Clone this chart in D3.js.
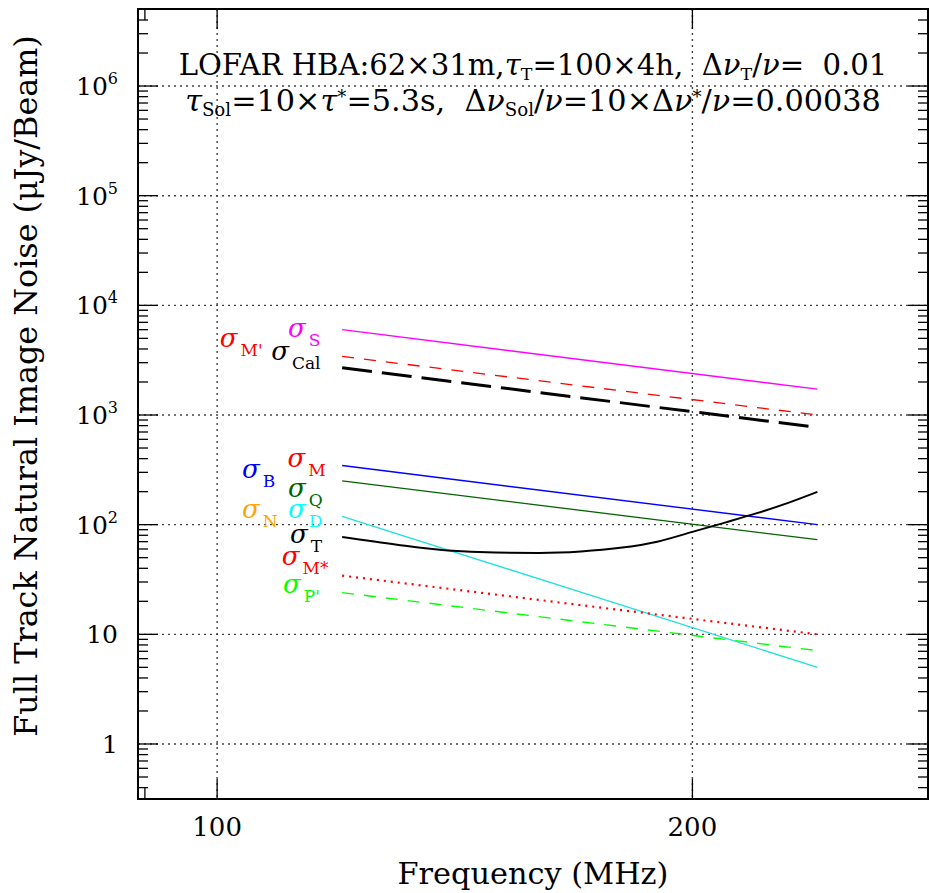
<!DOCTYPE html>
<html>
<head>
<meta charset="utf-8">
<script src="https://cdn.jsdelivr.net/npm/d3@7"></script>
<style>
  body { margin: 0; background: #fff; }
  text { font-family: "DejaVu Serif", "Liberation Serif", serif; fill: #000; white-space: pre; }
</style>
</head>
<body>
<div id="chart"></div>
<script>
const margin = { top: 9, right: 1, bottom: 94, left: 138 },
  width = 929 - margin.left - margin.right,
  height = 893 - margin.top - margin.bottom;

// frequency (MHz) of the straight power-law lines (end points)
const freqEnds = [120, 240];
// noise terms (µJy/beam) at 120 and 240 MHz
const sigmaS = [6000, 1720];
const sigmaMp = [3420, 1000];
const sigmaCal = [2700, 770];
const sigmaB = [346, 100];
const sigmaQ = [251, 73];
const sigmaD = [119, 5.0];
const sigmaMstar = [34.3, 10.0];
const sigmaPp = [24.0, 7.1];

// total noise curve
const freqT = [120, 130, 140, 150, 160, 170, 180, 190, 200, 210, 220, 230, 240];
const sigmaT = [77, 65.5, 58, 55.6, 55.3, 57, 61.5, 70, 86, 105, 128, 158, 199];

// axis ticks
const yMajor = [1, 10, 100, 1000, 1e4, 1e5, 1e6];
const yLabels = ["1", "10", "10|2", "10|3", "10|4", "10|5", "10|6"];
const xMajor = [100, 200];
const xMinor = [90];

const series = [
  { f: freqEnds, v: sigmaS, color: "#ff00ff", w: 1.4, dash: null },
  { f: freqEnds, v: sigmaMp, color: "#ff0000", w: 1.3, dash: "12,10" },
  { f: freqEnds, v: sigmaCal, color: "#000", w: 3, dash: "30,10" },
  { f: freqEnds, v: sigmaB, color: "#0000ff", w: 1.4, dash: null },
  { f: freqEnds, v: sigmaQ, color: "#006400", w: 1.3, dash: null },
  { f: freqEnds, v: sigmaD, color: "#22e0dc", w: 1.4, dash: null },
  { f: freqT, v: sigmaT, color: "#000", w: 2, dash: null },
  { f: freqEnds, v: sigmaMstar, color: "#ff0000", w: 2.2, dash: "2,5" },
  { f: freqEnds, v: sigmaPp, color: "#00ff00", w: 1.4, dash: "12,10" }
];

// label anchors, in data units (MHz, µJy/beam)
const labels = [
  { sub: "M'", color: "#ff0000", f: 100.4, v: 4170 },
  { sub: "S", color: "#ff00ff", f: 110.9, v: 5140 },
  { sub: "Cal", color: "#000", f: 108.2, v: 3170 },
  { sub: "B", color: "#0000ff", f: 103.7, v: 266 },
  { sub: "M", color: "#ff0000", f: 110.8, v: 336 },
  { sub: "Q", color: "#006400", f: 110.9, v: 179 },
  { sub: "N", color: "#ffa500", f: 103.7, v: 115 },
  { sub: "D", color: "#00ffff", f: 110.9, v: 115 },
  { sub: "T", color: "#000", f: 111.2, v: 68 },
  { sub: "M*", color: "#ff0000", f: 109.9, v: 42.9 },
  { sub: "P'", color: "#00ff00", f: 110.1, v: 23.8 }
];

const svg = d3.select("#chart").append("svg")
  .attr("width", width + margin.left + margin.right)
  .attr("height", height + margin.top + margin.bottom);
const g = svg.append("g").attr("transform", `translate(${margin.left},${margin.top})`);

const x = d3.scaleLog().domain([89.1, 282]).range([0, width]);
const y = d3.scaleLog().domain([0.315, 5.04e6]).range([height, 0]);

// scale a text's font so that it spans the wanted width
function fit(sel, target) {
  const w = sel.node().getComputedTextLength();
  const fs = parseFloat(sel.style("font-size"));
  sel.style("font-size", (fs * target / w) + "px");
}

// dotted grid
g.selectAll(".hgrid").data(yMajor).enter().append("line")
  .attr("x1", 0).attr("x2", width)
  .attr("y1", d => y(d)).attr("y2", d => y(d))
  .attr("stroke", "#444").attr("stroke-width", 1.4).attr("stroke-dasharray", "2,4");
g.selectAll(".vgrid").data(xMajor).enter().append("line")
  .attr("y1", 0).attr("y2", height)
  .attr("x1", d => x(d)).attr("x2", d => x(d))
  .attr("stroke", "#444").attr("stroke-width", 1.4).attr("stroke-dasharray", "2,4");

// ticks on all four sides
const yMinor = [];
for (let e = -1; e <= 6; e++) for (let k = 2; k <= 9; k++) {
  const v = k * Math.pow(10, e);
  if (v > y.domain()[0] && v < y.domain()[1]) yMinor.push(v);
}
const tickStroke = sel => sel.attr("stroke", "#000").attr("stroke-width", 1.3);
[[yMajor, 20], [yMinor, 10]].forEach(([vals, len]) => {
  g.append("g").selectAll("line").data(vals).enter().append("line")
    .attr("x1", 0).attr("x2", len).attr("y1", d => y(d)).attr("y2", d => y(d)).call(tickStroke);
  g.append("g").selectAll("line").data(vals).enter().append("line")
    .attr("x1", width).attr("x2", width - len).attr("y1", d => y(d)).attr("y2", d => y(d)).call(tickStroke);
});
[[xMajor, 20], [xMinor, 11]].forEach(([vals, len]) => {
  g.append("g").selectAll("line").data(vals).enter().append("line")
    .attr("y1", height).attr("y2", height - len).attr("x1", d => x(d)).attr("x2", d => x(d)).call(tickStroke);
  g.append("g").selectAll("line").data(vals).enter().append("line")
    .attr("y1", 0).attr("y2", len).attr("x1", d => x(d)).attr("x2", d => x(d)).call(tickStroke);
});

// frame
g.append("rect").attr("width", width).attr("height", height)
  .attr("fill", "none").attr("stroke", "#000").attr("stroke-width", 2);

// tick labels
const yl = g.append("g").selectAll("text").data(yMajor).enter().append("text")
  .attr("x", -20).attr("y", d => y(d) + 9)
  .attr("text-anchor", "end").style("font-size", "25px");
yl.each(function(d, i) {
  const parts = yLabels[i].split("|");
  const t = d3.select(this);
  t.append("tspan").text(parts[0]);
  if (parts[1]) t.append("tspan").attr("dy", -11).style("font-size", "16px").text(parts[1]);
});
g.append("g").selectAll("text").data(xMajor).enter().append("text")
  .attr("x", d => x(d)).attr("y", height + 37)
  .attr("text-anchor", "middle").style("font-size", "26px")
  .text(d => d);

// axis titles
const xt = svg.append("text").attr("x", margin.left + width / 2).attr("y", 884)
  .attr("text-anchor", "middle").style("font-size", "26px").text("Frequency (MHz)");
fit(xt, 271);
const yt = svg.append("text").attr("transform", "translate(37,386) rotate(-90)")
  .attr("text-anchor", "middle").style("font-size", "26px")
  .text("Full Track Natural Image Noise (\u03bcJy/Beam)");
fit(yt, 702);

// curves
const line = d3.line().curve(d3.curveMonotoneX).x(d => x(d[0])).y(d => y(d[1]));
g.selectAll(".curve").data(series).enter().append("path")
  .attr("d", s => line(d3.zip(s.f, s.v)))
  .attr("fill", "none")
  .attr("stroke", s => s.color)
  .attr("stroke-width", s => s.w)
  .attr("stroke-dasharray", s => s.dash);

// sigma labels
const lab = g.selectAll(".lab").data(labels).enter().append("text")
  .attr("x", d => x(d.f)).attr("y", d => y(d.v))
  .style("fill", d => d.color).style("font-size", "26px");
lab.append("tspan").style("font-style", "italic").text("\u03c3");
lab.append("tspan").attr("dx", 3).attr("dy", 9).style("font-size", "17px").text(d => d.sub);

// header text (sub/superscripts sized in em so fit() scales them too)
const head = g.append("g").attr("transform", `translate(${width / 2},0)`);
const sub = (t, s) => t.append("tspan").attr("dy", "0.3em").style("font-size", "0.6em").text(s);
const back = (t, s) => t.append("tspan").attr("dy", "-0.18em").text(s);
const it = (t, s) => t.append("tspan").style("font-style", "italic").text(s);

const h1 = head.append("text").attr("y", 66).attr("text-anchor", "middle").style("font-size", "28px");
h1.append("tspan").text("LOFAR HBA:62\u00d731m,");
it(h1, "\u03c4");
sub(h1, "T");
back(h1, "=100\u00d74h,  \u0394");
it(h1, "\u03bd");
sub(h1, "T");
back(h1, "/");
it(h1, "\u03bd");
h1.append("tspan").text("=  0.01");
fit(h1, 709);

const h2 = head.append("text").attr("y", 102).attr("text-anchor", "middle").style("font-size", "28px");
it(h2, "\u03c4");
sub(h2, "Sol");
back(h2, "=10\u00d7");
it(h2, "\u03c4");
h2.append("tspan").attr("dy", "-0.45em").style("font-size", "0.6em").text("*");
h2.append("tspan").attr("dy", "0.27em").text("=5.3s,  \u0394");
it(h2, "\u03bd");
sub(h2, "Sol");
back(h2, "/");
it(h2, "\u03bd");
h2.append("tspan").text("=10\u00d7\u0394");
it(h2, "\u03bd");
h2.append("tspan").attr("dy", "-0.45em").style("font-size", "0.6em").text("*");
h2.append("tspan").attr("dy", "0.27em").text("/");
it(h2, "\u03bd");
h2.append("tspan").text("=0.00038");
fit(h2, 696);
</script>
</body>
</html>
